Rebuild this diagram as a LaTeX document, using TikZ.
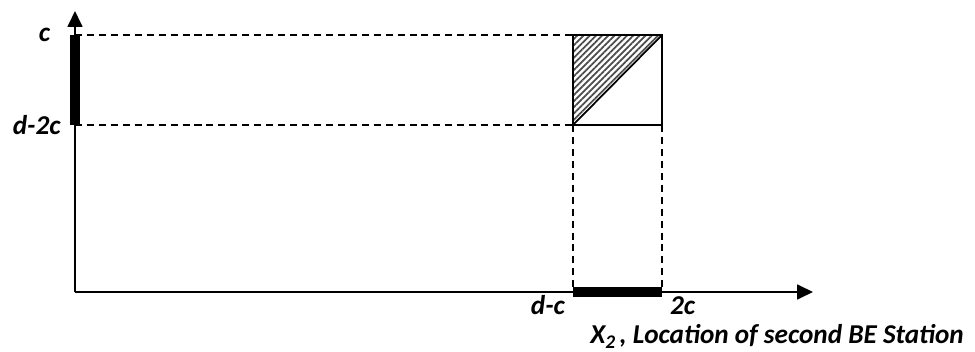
\documentclass[tikz,border=0pt]{standalone}
\usepackage{fontspec}
\setmainfont{Carlito}
\usetikzlibrary{arrows.meta, patterns.meta, positioning}
\tikzset{
  axis/.style={-{Triangle[length=0.32cm, width=0.3cm]}, line width=1pt},
  guide/.style={line width=0.8pt, dash pattern=on 4pt off 2.8pt},
  interval/.style={line width=6pt},
  region/.style={line width=1pt},
  lbl/.style={font=\fontsize{15.5}{18}\selectfont\bfseries\itshape, inner sep=1pt}
}
\begin{document}
\begin{tikzpicture}[x=0.02cm, y=0.02cm]
  \useasboundingbox (0,0) rectangle (975,352);

  % Reference points
  \coordinate (o) at (75,60);
  \coordinate (ytip) at (75,341);
  \coordinate (xtip) at (813,60);
  \coordinate (yc) at (75,317);
  \coordinate (yd) at (75,227);
  \coordinate (xd) at (573,60);
  \coordinate (xc) at (662,60);
  \coordinate (sq1) at (573,227);
  \coordinate (sq2) at (662,227);
  \coordinate (sq3) at (662,317);
  \coordinate (sq4) at (573,317);

  % Shaded region and square
  \fill[pattern={Lines[angle=45, distance=2.5pt, line width=1pt]}, pattern color=black!70]
    (sq1) -- (sq4) -- (sq3) -- cycle;
  \draw[region] (sq1) rectangle (sq3);
  \draw[region] (sq1) -- (sq3);

  % Guide lines
  \draw[guide] (yc) -- (sq4);
  \draw[guide] (yd) -- (sq1);
  \draw[guide] (sq1) -- (xd);
  \draw[guide] (sq2) -- (xc);

  % Axes
  \draw[axis] (o) -- (ytip);
  \draw[axis] (o) -- (xtip);

  % Intervals
  \draw[interval] (yd) -- (yc);
  \draw[interval] (xd) -- (xc);

  % Labels
  \node[lbl, left=13pt of yc] (lc) {c};
  \node[lbl, left=7pt of yd] (ld) {d-2c};
  \node[lbl, anchor=base east] (ldc) at (567,37) {d-c};
  \node[lbl, anchor=base west] (l2c) at (668,37) {2c};
  \node[lbl, anchor=base east] (lx) at (966,9)
    {X\raisebox{-0.45ex}{\fontsize{11}{11}\selectfont 2}\,, Location of second BE Station};
\end{tikzpicture}
\end{document}
